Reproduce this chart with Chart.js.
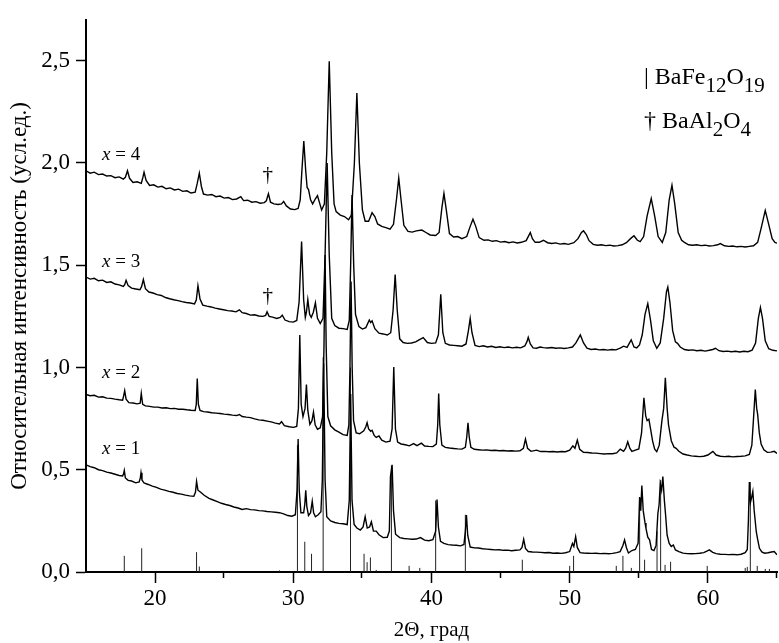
<!DOCTYPE html>
<html lang="ru">

<head>
  <meta charset="UTF-8">
  <title>XRD BaFe12O19</title>
  <style>
    body { margin: 0; background: #fff; }
    #box { position: absolute; left: 0; top: 0; width: 779px; height: 643px; }
  </style>
</head>

<body>
  <div id="box">
    <canvas id="grafico" width="779" height="643"></canvas>
  </div>

  <script src="https://cdn.jsdelivr.net/npm/chart.js"></script>
  <script>
    // ось X и Y
    const X_TICKS = [20, 30, 40, 50, 60];
    const X_MINOR = [25, 35, 45, 55, 65];
    const Y_TICKS = [0, 0.5, 1.0, 1.5, 2.0, 2.5];

    // подписи кривых
    const CURVE_LABELS = ['4', '3', '2', '1'];

    // x = 4
    const C4 = [[15,1.962],[15.3,1.950],[15.6,1.955],[15.9,1.943],[16.2,1.946],[16.5,1.936],[16.8,1.938],[17.1,1.928],[17.4,1.932],[17.7,1.921],[17.85,1.93],[18.0,1.962],[18.15,1.925],[18.4,1.905],[18.7,1.908],[19.0,1.900],[19.1,1.925],[19.2,1.955],[19.35,1.915],[19.6,1.890],[19.9,1.893],[20.2,1.882],[20.5,1.886],[20.8,1.874],[21.1,1.878],[21.4,1.868],[21.7,1.872],[22.0,1.861],[22.3,1.864],[22.6,1.853],[22.9,1.857],[23.05,1.90],[23.2,1.950],[23.35,1.885],[23.5,1.848],[23.8,1.843],[24.1,1.846],[24.4,1.835],[24.7,1.838],[25.0,1.828],[25.3,1.831],[25.6,1.821],[25.9,1.824],[26.2,1.835],[26.4,1.816],[26.7,1.818],[27.0,1.808],[27.3,1.811],[27.6,1.803],[27.9,1.806],[28.05,1.815],[28.2,1.850],[28.35,1.808],[28.6,1.800],[28.9,1.797],[29.15,1.800],[29.3,1.812],[29.5,1.790],[29.8,1.775],[30.1,1.772],[30.35,1.778],[30.5,1.82],[30.62,1.96],[30.76,2.107],[30.9,1.96],[31.0,1.88],[31.1,1.87],[31.25,1.82],[31.4,1.800],[31.6,1.825],[31.75,1.840],[31.9,1.805],[32.05,1.770],[32.25,1.80],[32.42,2.05],[32.6,2.497],[32.78,2.05],[32.95,1.80],[33.1,1.762],[33.4,1.745],[33.7,1.738],[34.0,1.722],[34.2,1.745],[34.42,2.00],[34.6,2.342],[34.78,2.00],[35.0,1.77],[35.2,1.715],[35.45,1.715],[35.7,1.757],[35.9,1.738],[36.1,1.702],[36.4,1.690],[36.7,1.684],[37.0,1.676],[37.25,1.70],[37.48,1.83],[37.63,1.927],[37.78,1.83],[38.0,1.695],[38.3,1.665],[38.6,1.662],[38.9,1.668],[39.3,1.672],[39.6,1.660],[39.9,1.648],[40.3,1.645],[40.55,1.66],[40.75,1.78],[40.9,1.851],[41.05,1.78],[41.3,1.655],[41.6,1.638],[41.9,1.640],[42.2,1.630],[42.55,1.640],[42.8,1.69],[43.0,1.725],[43.2,1.69],[43.45,1.635],[43.8,1.622],[44.1,1.624],[44.4,1.617],[44.7,1.620],[45.0,1.613],[45.3,1.616],[45.6,1.610],[45.9,1.614],[46.2,1.609],[46.5,1.612],[46.85,1.620],[47.0,1.64],[47.15,1.660],[47.3,1.630],[47.5,1.612],[47.8,1.612],[48.1,1.622],[48.4,1.610],[48.7,1.606],[49.0,1.609],[49.3,1.603],[49.6,1.606],[49.9,1.602],[50.3,1.610],[50.6,1.630],[50.85,1.660],[51.0,1.668],[51.2,1.650],[51.4,1.620],[51.7,1.602],[52.0,1.598],[52.3,1.600],[52.6,1.596],[52.9,1.598],[53.2,1.594],[53.5,1.596],[53.8,1.600],[54.1,1.610],[54.4,1.630],[54.65,1.644],[54.9,1.622],[55.1,1.615],[55.35,1.640],[55.6,1.74],[55.9,1.826],[56.15,1.74],[56.4,1.640],[56.7,1.611],[56.95,1.66],[57.2,1.82],[57.4,1.891],[57.6,1.80],[57.85,1.66],[58.1,1.622],[58.3,1.612],[58.6,1.600],[58.9,1.598],[59.2,1.600],[59.5,1.596],[59.8,1.598],[60.1,1.594],[60.4,1.596],[60.7,1.600],[60.9,1.606],[61.2,1.595],[61.5,1.592],[61.8,1.594],[62.1,1.590],[62.4,1.592],[62.7,1.589],[63.0,1.592],[63.3,1.595],[63.6,1.612],[63.85,1.68],[64.15,1.768],[64.4,1.70],[64.65,1.630],[64.85,1.612],[65.0,1.608]];

    // x = 3
    const C3 = [[15,1.442],[15.3,1.432],[15.6,1.436],[15.9,1.424],[16.2,1.427],[16.5,1.416],[16.8,1.419],[17.1,1.408],[17.4,1.404],[17.7,1.396],[17.8,1.405],[17.9,1.426],[18.05,1.40],[18.3,1.388],[18.6,1.384],[18.9,1.380],[19.02,1.395],[19.15,1.430],[19.3,1.385],[19.55,1.369],[19.85,1.364],[20.15,1.356],[20.45,1.352],[20.75,1.342],[21.05,1.336],[21.35,1.331],[21.65,1.327],[21.95,1.322],[22.25,1.318],[22.55,1.315],[22.85,1.311],[22.98,1.33],[23.1,1.400],[23.25,1.335],[23.45,1.305],[23.75,1.300],[24.05,1.296],[24.35,1.290],[24.65,1.286],[24.95,1.282],[25.25,1.278],[25.55,1.276],[25.85,1.272],[26.1,1.282],[26.3,1.268],[26.6,1.264],[26.9,1.256],[27.2,1.258],[27.5,1.252],[27.8,1.250],[28.0,1.255],[28.1,1.272],[28.25,1.250],[28.5,1.246],[28.8,1.240],[29.05,1.245],[29.2,1.256],[29.4,1.232],[29.7,1.224],[30.0,1.222],[30.25,1.230],[30.42,1.32],[30.6,1.616],[30.75,1.33],[30.87,1.245],[30.95,1.27],[31.05,1.332],[31.18,1.26],[31.3,1.245],[31.45,1.27],[31.6,1.316],[31.75,1.24],[31.95,1.215],[32.15,1.24],[32.3,1.55],[32.45,2.0],[32.6,1.55],[32.78,1.24],[33.0,1.205],[33.3,1.192],[33.6,1.190],[33.9,1.186],[34.05,1.23],[34.15,1.50],[34.25,1.843],[34.37,1.50],[34.5,1.26],[34.75,1.20],[35.0,1.188],[35.25,1.195],[35.5,1.232],[35.6,1.22],[35.7,1.228],[35.9,1.19],[36.2,1.168],[36.5,1.164],[36.8,1.159],[37.05,1.17],[37.22,1.28],[37.37,1.455],[37.52,1.28],[37.7,1.14],[37.95,1.122],[38.25,1.118],[38.55,1.120],[38.85,1.125],[39.1,1.135],[39.4,1.146],[39.7,1.122],[40.0,1.118],[40.3,1.120],[40.5,1.16],[40.67,1.358],[40.82,1.17],[41.0,1.118],[41.3,1.110],[41.6,1.108],[41.9,1.106],[42.2,1.104],[42.5,1.115],[42.67,1.18],[42.8,1.240],[42.93,1.17],[43.15,1.108],[43.45,1.102],[43.75,1.106],[44.05,1.100],[44.35,1.104],[44.65,1.098],[44.95,1.101],[45.25,1.097],[45.55,1.100],[45.85,1.096],[46.15,1.099],[46.45,1.096],[46.75,1.105],[46.9,1.125],[47.0,1.147],[47.15,1.115],[47.35,1.096],[47.6,1.094],[47.85,1.100],[48.1,1.097],[48.4,1.095],[48.7,1.098],[49.0,1.094],[49.3,1.096],[49.6,1.093],[49.9,1.096],[50.2,1.100],[50.45,1.12],[50.77,1.159],[51.0,1.12],[51.25,1.095],[51.55,1.088],[51.85,1.090],[52.15,1.086],[52.45,1.088],[52.75,1.085],[53.05,1.088],[53.35,1.086],[53.65,1.095],[53.9,1.104],[54.15,1.098],[54.45,1.135],[54.65,1.100],[54.85,1.096],[55.05,1.11],[55.25,1.16],[55.45,1.26],[55.65,1.312],[55.85,1.23],[56.05,1.13],[56.3,1.094],[56.55,1.12],[56.8,1.24],[57.0,1.37],[57.1,1.393],[57.25,1.32],[57.45,1.18],[57.65,1.125],[57.8,1.118],[58.0,1.100],[58.3,1.088],[58.6,1.084],[58.9,1.086],[59.2,1.082],[59.5,1.084],[59.8,1.080],[60.1,1.084],[60.35,1.088],[60.55,1.094],[60.8,1.082],[61.1,1.078],[61.4,1.080],[61.7,1.077],[62.0,1.079],[62.3,1.076],[62.6,1.079],[62.9,1.077],[63.2,1.085],[63.45,1.12],[63.65,1.24],[63.8,1.293],[63.95,1.24],[64.15,1.13],[64.4,1.092],[64.7,1.084],[65.0,1.081]];

    // x = 2
    const C2 = [[15,0.868],[15.3,0.862],[15.6,0.864],[15.9,0.855],[16.2,0.857],[16.5,0.850],[16.8,0.849],[17.1,0.845],[17.4,0.842],[17.65,0.840],[17.72,0.86],[17.8,0.887],[17.9,0.845],[18.1,0.828],[18.4,0.826],[18.7,0.822],[18.92,0.825],[19.0,0.873],[19.1,0.820],[19.3,0.812],[19.6,0.810],[19.9,0.806],[20.2,0.806],[20.5,0.802],[20.8,0.803],[21.1,0.799],[21.4,0.800],[21.7,0.796],[22.0,0.796],[22.3,0.793],[22.6,0.791],[22.9,0.790],[22.98,0.82],[23.05,0.946],[23.13,0.82],[23.25,0.79],[23.5,0.784],[23.8,0.782],[24.1,0.779],[24.4,0.777],[24.7,0.775],[25.0,0.772],[25.3,0.770],[25.6,0.767],[25.9,0.765],[26.1,0.770],[26.3,0.760],[26.6,0.757],[26.9,0.755],[27.2,0.749],[27.5,0.744],[27.8,0.742],[28.1,0.738],[28.4,0.734],[28.7,0.728],[29.0,0.724],[29.15,0.735],[29.35,0.716],[29.7,0.710],[30.0,0.707],[30.25,0.712],[30.37,0.80],[30.47,1.159],[30.57,0.82],[30.7,0.760],[30.85,0.80],[30.95,0.917],[31.05,0.79],[31.2,0.722],[31.35,0.74],[31.46,0.782],[31.58,0.72],[31.75,0.698],[31.95,0.705],[32.12,0.76],[32.22,1.10],[32.3,1.55],[32.38,1.10],[32.5,0.76],[32.7,0.715],[33.0,0.695],[33.3,0.684],[33.6,0.672],[33.9,0.668],[34.02,0.72],[34.1,1.00],[34.18,1.42],[34.26,1.00],[34.36,0.74],[34.55,0.680],[34.8,0.676],[35.1,0.690],[35.25,0.71],[35.34,0.730],[35.45,0.70],[35.6,0.688],[35.7,0.693],[35.85,0.668],[36.0,0.658],[36.2,0.665],[36.4,0.645],[36.7,0.635],[37.0,0.640],[37.15,0.70],[37.27,1.002],[37.39,0.70],[37.55,0.635],[37.8,0.626],[38.1,0.622],[38.4,0.617],[38.7,0.628],[38.95,0.618],[39.27,0.630],[39.5,0.616],[39.8,0.614],[40.1,0.613],[40.35,0.625],[40.45,0.72],[40.52,0.873],[40.6,0.72],[40.75,0.620],[41.0,0.609],[41.3,0.606],[41.6,0.604],[41.9,0.602],[42.2,0.601],[42.45,0.610],[42.55,0.66],[42.64,0.730],[42.73,0.66],[42.85,0.610],[43.1,0.600],[43.4,0.598],[43.7,0.596],[44.0,0.597],[44.3,0.594],[44.6,0.595],[44.9,0.593],[45.2,0.594],[45.5,0.592],[45.8,0.593],[46.1,0.591],[46.4,0.593],[46.65,0.605],[46.8,0.650],[46.95,0.605],[47.2,0.590],[47.6,0.596],[47.9,0.589],[48.2,0.590],[48.5,0.588],[48.8,0.589],[49.1,0.587],[49.4,0.589],[49.7,0.588],[50.0,0.596],[50.23,0.617],[50.38,0.605],[50.55,0.645],[50.72,0.600],[51.0,0.585],[51.3,0.584],[51.6,0.582],[51.9,0.581],[52.2,0.579],[52.5,0.577],[52.8,0.579],[53.1,0.578],[53.4,0.582],[53.66,0.601],[53.9,0.590],[54.05,0.605],[54.2,0.637],[54.35,0.605],[54.5,0.590],[54.75,0.596],[55.0,0.602],[55.2,0.68],[55.37,0.852],[55.5,0.763],[55.6,0.74],[55.73,0.747],[55.85,0.70],[56.0,0.640],[56.15,0.600],[56.3,0.588],[56.48,0.62],[56.67,0.739],[56.8,0.80],[56.92,0.950],[57.05,0.80],[57.15,0.72],[57.35,0.642],[57.55,0.610],[57.7,0.605],[57.9,0.590],[58.2,0.577],[58.5,0.572],[58.8,0.568],[59.1,0.566],[59.4,0.564],[59.7,0.566],[60.0,0.572],[60.36,0.590],[60.6,0.572],[60.9,0.566],[61.2,0.564],[61.5,0.566],[61.8,0.563],[62.1,0.565],[62.4,0.566],[62.7,0.568],[63.0,0.575],[63.18,0.62],[63.3,0.75],[63.43,0.892],[63.53,0.80],[63.6,0.771],[63.72,0.68],[63.85,0.626],[64.05,0.598],[64.3,0.585],[64.55,0.586],[64.8,0.590],[65.0,0.580]];

    // x = 1
    const C1 = [[15,0.524],[15.3,0.515],[15.6,0.510],[15.9,0.500],[16.2,0.496],[16.5,0.488],[16.8,0.484],[17.1,0.478],[17.4,0.472],[17.65,0.470],[17.72,0.48],[17.77,0.496],[17.85,0.46],[18.05,0.448],[18.3,0.445],[18.6,0.436],[18.85,0.440],[18.93,0.46],[18.98,0.485],[19.05,0.45],[19.2,0.435],[19.5,0.428],[19.8,0.420],[20.1,0.414],[20.4,0.405],[20.7,0.400],[21.0,0.394],[21.3,0.390],[21.6,0.384],[21.9,0.381],[22.2,0.376],[22.5,0.372],[22.8,0.370],[22.92,0.39],[23.0,0.443],[23.1,0.40],[23.3,0.390],[23.55,0.375],[23.9,0.360],[24.2,0.352],[24.5,0.344],[24.8,0.336],[25.1,0.330],[25.4,0.325],[25.7,0.318],[26.0,0.313],[26.3,0.306],[26.6,0.310],[26.9,0.305],[27.2,0.304],[27.5,0.300],[27.8,0.299],[28.1,0.296],[28.4,0.294],[28.7,0.292],[29.0,0.290],[29.3,0.284],[29.6,0.276],[29.9,0.273],[30.15,0.280],[30.27,0.40],[30.35,0.650],[30.43,0.40],[30.55,0.29],[30.75,0.290],[30.83,0.33],[30.9,0.399],[30.98,0.32],[31.1,0.276],[31.25,0.29],[31.37,0.346],[31.47,0.29],[31.6,0.270],[31.8,0.280],[32.0,0.295],[32.1,0.45],[32.2,1.020],[32.3,0.45],[32.42,0.27],[32.7,0.250],[33.0,0.242],[33.3,0.238],[33.6,0.236],[33.9,0.232],[34.05,0.35],[34.15,0.870],[34.25,0.35],[34.4,0.232],[34.6,0.215],[34.85,0.205],[35.05,0.22],[35.2,0.270],[35.35,0.215],[35.52,0.22],[35.65,0.245],[35.8,0.200],[36.0,0.200],[36.2,0.182],[36.5,0.168],[36.8,0.170],[36.95,0.20],[37.03,0.467],[37.15,0.524],[37.25,0.30],[37.4,0.185],[37.7,0.168],[38.0,0.164],[38.3,0.162],[38.6,0.160],[38.9,0.161],[39.2,0.168],[39.5,0.156],[39.8,0.153],[40.1,0.158],[40.3,0.20],[40.4,0.354],[40.5,0.22],[40.65,0.150],[40.9,0.140],[41.2,0.134],[41.5,0.132],[41.8,0.131],[42.1,0.128],[42.35,0.135],[42.45,0.20],[42.53,0.278],[42.62,0.18],[42.8,0.122],[43.1,0.118],[43.4,0.117],[43.7,0.114],[44.0,0.112],[44.3,0.110],[44.6,0.108],[44.9,0.109],[45.2,0.106],[45.5,0.107],[45.8,0.104],[46.1,0.106],[46.4,0.108],[46.55,0.12],[46.67,0.160],[46.8,0.115],[47.0,0.100],[47.3,0.098],[47.6,0.097],[47.9,0.096],[48.2,0.094],[48.5,0.095],[48.8,0.092],[49.1,0.093],[49.4,0.091],[49.7,0.094],[50.0,0.100],[50.2,0.140],[50.3,0.125],[50.43,0.173],[50.55,0.12],[50.75,0.095],[51.0,0.093],[51.3,0.092],[51.6,0.091],[51.9,0.092],[52.2,0.090],[52.5,0.091],[52.8,0.089],[53.1,0.091],[53.4,0.095],[53.65,0.100],[53.85,0.13],[53.97,0.157],[54.1,0.12],[54.25,0.093],[54.5,0.105],[54.75,0.110],[54.95,0.14],[55.06,0.367],[55.14,0.30],[55.22,0.423],[55.32,0.30],[55.45,0.24],[55.52,0.213],[55.65,0.17],[55.78,0.157],[55.92,0.11],[56.1,0.105],[56.25,0.13],[56.38,0.286],[56.47,0.33],[56.55,0.432],[56.65,0.40],[56.74,0.467],[56.85,0.35],[56.93,0.286],[57.05,0.18],[57.2,0.140],[57.35,0.125],[57.5,0.132],[57.65,0.108],[57.9,0.100],[58.2,0.092],[58.5,0.090],[58.8,0.089],[59.1,0.090],[59.4,0.092],[59.7,0.095],[60.0,0.105],[60.1,0.108],[60.35,0.096],[60.6,0.090],[60.9,0.087],[61.2,0.086],[61.5,0.085],[61.8,0.086],[62.1,0.084],[62.4,0.087],[62.7,0.095],[62.85,0.11],[62.93,0.25],[63.0,0.440],[63.08,0.34],[63.15,0.36],[63.25,0.394],[63.35,0.30],[63.5,0.197],[63.6,0.16],[63.73,0.116],[63.9,0.098],[64.1,0.092],[64.35,0.094],[64.6,0.098],[64.8,0.100],[65.0,0.084]];

    // штрих-диаграмма BaFe12O19
    const STICK_POS = [17.77, 19.03, 23.0, 23.2, 29.0, 30.3, 30.83, 31.32, 32.16, 34.14, 35.12, 35.34, 35.58, 36.0, 37.1, 38.38, 39.15, 40.3, 42.45, 46.57, 47.3, 50.0, 50.28, 53.37, 53.85, 54.46, 55.06, 55.42, 56.32, 56.58, 56.9, 57.3, 59.95, 62.7, 62.85, 63.07, 63.57, 64.15, 64.45];
    const STICK_H = [0.079, 0.116, 0.097, 0.027, 0.008, 0.62, 0.148, 0.089, 1.05, 1.0, 0.089, 0.048, 0.071, 0.01, 0.52, 0.03, 0.02, 0.35, 0.28, 0.06, 0.008, 0.03, 0.079, 0.03, 0.079, 0.02, 0.36, 0.06, 0.2, 0.45, 0.035, 0.05, 0.03, 0.02, 0.025, 0.44, 0.03, 0.015, 0.015];

    const FONTE = "'Liberation Serif', 'Times New Roman', serif";

    // штрихи как отрезки с разрывами
    const stickData = [];
    STICK_POS.forEach((p, i) => {
      stickData.push({ x: p, y: 0 }, { x: p, y: STICK_H[i] }, { x: p, y: null });
    });

    function curva(dados) {
      return {
        data: dados,
        borderColor: '#000',
        borderWidth: 1.4,
        pointRadius: 0,
        fill: false,
        tension: 0
      };
    }

    const anotacoes = {
      id: 'anotacoes',
      afterDraw(chart) {
        const ctx = chart.ctx;
        const sx = chart.scales.x;
        const sy = chart.scales.y;
        const a = chart.chartArea;
        ctx.save();

        // малые деления по X
        ctx.strokeStyle = '#000';
        ctx.lineWidth = 1.5;
        X_MINOR.forEach(v => {
          const px = Math.round(sx.getPixelForValue(v)) - 0.5;
          ctx.beginPath();
          ctx.moveTo(px, a.bottom);
          ctx.lineTo(px, a.bottom + 6);
          ctx.stroke();
        });

        ctx.fillStyle = '#000';
        ctx.textBaseline = 'middle';

        // подписи x = n
        const posY = [2.038, 1.515, 0.973, 0.601];
        CURVE_LABELS.forEach((n, i) => {
          const px = sx.getPixelForValue(16.16);
          const py = sy.getPixelForValue(posY[i]);
          ctx.font = 'italic 19px ' + FONTE;
          ctx.textAlign = 'left';
          ctx.fillText('x', px, py);
          const w = ctx.measureText('x').width;
          ctx.font = '19px ' + FONTE;
          ctx.fillText(' = ' + n, px + w, py);
        });

        // крестики BaAl2O4
        ctx.font = '21px ' + FONTE;
        ctx.textAlign = 'center';
        [1.94, 1.345].forEach(v => {
          ctx.fillText('†', sx.getPixelForValue(28.16), sy.getPixelForValue(v));
        });

        // легенда
        ctx.textBaseline = 'alphabetic';
        ctx.textAlign = 'left';
        function linha(partes, x, y) {
          partes.forEach(([t, sub]) => {
            ctx.font = (sub ? '21px ' : '24px ') + FONTE;
            ctx.fillText(t, x, sub ? y + 8 : y);
            x += ctx.measureText(t).width;
          });
        }
        linha([['| BaFe', false], ['12', true], ['O', false], ['19', true]], 644, 84);
        linha([['† BaAl', false], ['2', true], ['O', false], ['4', true]], 644, 128);

        ctx.restore();
      }
    };

    const ctx = document.getElementById('grafico').getContext('2d');
    new Chart(ctx, {
      type: 'line',
      data: {
        datasets: [
          curva(C4), curva(C3), curva(C2), curva(C1),
          {
            data: stickData,
            borderColor: '#222',
            borderWidth: 1,
            pointRadius: 0,
            spanGaps: false,
            tension: 0
          }
        ]
      },
      options: {
        responsive: false,
        animation: false,
        layout: { padding: { left: 0, right: 2, top: 15, bottom: 0 } },
        plugins: {
          legend: { display: false },
          tooltip: { enabled: false }
        },
        scales: {
          x: {
            type: 'linear',
            min: 15,
            max: 65,
            offset: false,
            afterBuildTicks: s => { s.ticks = X_TICKS.map(v => ({ value: v })); },
            afterFit: s => { s.height = 71; },
            border: { display: true, color: '#000', width: 2 },
            grid: { drawOnChartArea: false, drawTicks: true, tickLength: 11, tickWidth: 1.5, tickColor: '#000' },
            ticks: {
              color: '#000',
              font: { family: FONTE, size: 23 },
              padding: 2,
              maxRotation: 0,
              autoSkip: false,
              callback: v => String(v)
            },
            title: {
              display: true,
              text: '2Θ, град',
              color: '#000',
              font: { family: FONTE, size: 21 },
              padding: { top: 0, bottom: 0 }
            }
          },
          y: {
            min: 0,
            max: 2.7,
            afterBuildTicks: s => { s.ticks = Y_TICKS.map(v => ({ value: v })); },
            afterFit: s => { s.width = 86; },
            border: { display: true, color: '#000', width: 2 },
            grid: { drawOnChartArea: false, drawTicks: true, tickLength: 10, tickWidth: 1.5, tickColor: '#000' },
            ticks: {
              color: '#000',
              font: { family: FONTE, size: 23 },
              padding: 6,
              callback: v => v.toFixed(1).replace('.', ',')
            },
            title: {
              display: true,
              text: 'Относительная интенсивность (усл.ед.)',
              color: '#000',
              font: { family: FONTE, size: 23 },
              padding: { top: 6, bottom: 0 }
            }
          }
        }
      },
      plugins: [anotacoes]
    });
  </script>
</body>

</html>
